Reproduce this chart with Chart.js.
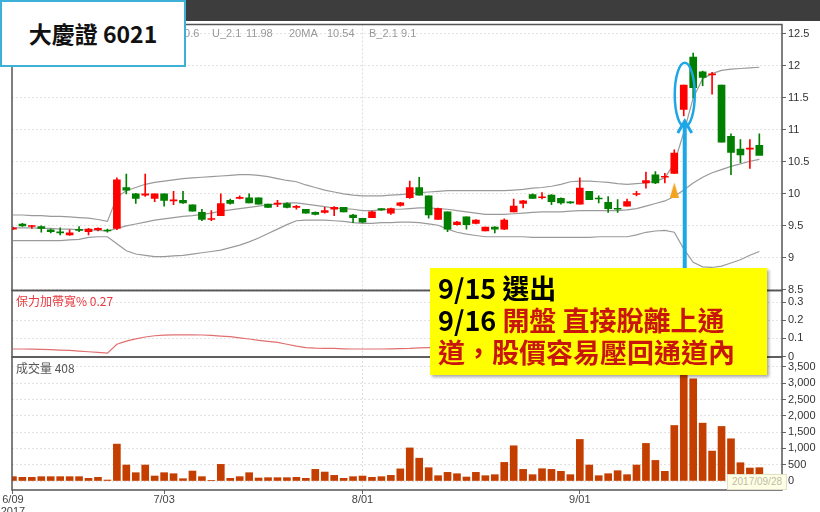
<!DOCTYPE html>
<html>
<head>
<meta charset="utf-8">
<script src="https://cdn.jsdelivr.net/npm/chart.js@4.4.1/dist/chart.umd.min.js"></script>
<style>
  html, body { margin: 0; padding: 0; background: #fff; }
  #wrap { position: relative; width: 820px; height: 512px; overflow: hidden; font-family: "Liberation Sans", Arial, sans-serif; }
  #wrap canvas { position: absolute; left: 0; top: 0; }
  .topbar { position: absolute; left: 0; top: 0; width: 820px; height: 21px; background: #3d3d3d; }
  .leg { position: absolute; top: 26px; font-size: 11px; line-height: 14px; color: #999; white-space: nowrap; }
  .panel-label { position: absolute; left: 16px; font-size: 12px; line-height: 14px; white-space: nowrap; font-family: "Noto Sans CJK TC", "Liberation Sans", sans-serif; }
  .title { position: absolute; left: 0; top: 0; width: 182px; height: 63px; background: #fff; border: 2px solid #3cb0d6;
           font: bold 23px/63px "Noto Sans CJK TC", sans-serif; text-align: center; color: #111; }
  .note { position: absolute; left: 430px; top: 268px; width: 337px; height: 107px; box-sizing: border-box; padding: 4px 0 0 8px;
          background: #ffff00; box-shadow: 2px 2px 3px rgba(0,0,0,0.35);
          font: bold 27px/32px "Noto Sans CJK TC", sans-serif; color: #000; white-space: nowrap; }
  .note .r { color: #c8160c; }
  .tip { position: absolute; left: 727px; top: 474px; width: 58px; height: 14px; background: #ffffe6; border: 1px solid #e2e0c8;
         font-size: 10px; line-height: 14px; color: #bdbba4; text-align: center; }
</style>
</head>
<body>
<div id="wrap">
  <div class="topbar"></div>
  <canvas id="price" width="820" height="512"></canvas>
  <canvas id="bw" width="820" height="512"></canvas>
  <canvas id="vol" width="820" height="512"></canvas>

  <span class="leg" style="left:178px">10.6</span>
  <span class="leg" style="left:212px">U_2.1</span>
  <span class="leg" style="left:246px">11.98</span>
  <span class="leg" style="left:289px">20MA</span>
  <span class="leg" style="left:327px">10.54</span>
  <span class="leg" style="left:369px">B_2.1</span>
  <span class="leg" style="left:401px">9.1</span>

  <span class="panel-label" style="top:294px;color:#e8383d">保力加帶寬% 0.27</span>
  <span class="panel-label" style="top:361px;color:#555">成交量 408</span>

  <div class="title">大慶證 6021</div>
  <div class="note">
    <div>9/15 選出</div>
    <div>9/16 <span class="r">開盤 直接脫離上通</span></div>
    <div class="r">道，股價容易壓回通道內</div>
  </div>
  <div class="tip">2017/09/28</div>
</div>

<script>
// daily candles 2017/06/09 .. 2017/09/28, index 0..79
const opens = [9.45, 9.53, 9.49, 9.49, 9.44, 9.40, 9.36, 9.44, 9.41, 9.44,
  9.43, 9.46, 10.10, 10.00, 9.98, 9.93, 10.00, 9.89, 9.90, 9.83,
  9.71, 9.60, 9.66, 9.90, 9.93, 9.94, 9.94, 9.84, 9.84, 9.85,
  9.79, 9.76, 9.71, 9.71, 9.76, 9.79, 9.67, 9.62, 9.63, 9.77,
  9.70, 9.82, 9.94, 10.10, 9.97, 9.60, 9.72, 9.52, 9.64, 9.54,
  9.42, 9.48, 9.45, 9.72, 9.85, 9.99, 9.94, 9.98, 9.93, 9.87,
  9.84, 10.04, 9.93, 9.87, 9.77, 9.81, 9.99, 10.17, 10.30, 10.26,
  10.32, 11.32, 12.14, 11.91, 11.86, 11.70, 10.90, 10.70, 10.70, 10.76];
const highs = [9.48, 9.54, 9.51, 9.50, 9.45, 9.47, 9.44, 9.49, 9.46, 9.47,
  9.45, 10.25, 10.31, 10.01, 10.31, 10.00, 10.00, 10.04, 10.04, 9.83,
  9.76, 9.74, 10.00, 9.92, 9.97, 10.00, 9.94, 9.84, 9.90, 9.86,
  9.82, 9.76, 9.72, 9.79, 9.80, 9.79, 9.68, 9.62, 9.73, 9.77,
  9.78, 9.87, 10.20, 10.26, 9.97, 9.78, 9.72, 9.57, 9.64, 9.60,
  9.48, 9.49, 9.61, 9.92, 9.90, 10.00, 10.02, 9.99, 9.94, 9.88,
  10.25, 10.04, 9.97, 9.96, 9.91, 9.92, 10.04, 10.34, 10.35, 10.32,
  10.69, 11.70, 12.20, 11.92, 11.90, 11.70, 10.94, 10.85, 10.85, 10.94];
const lows = [9.44, 9.49, 9.46, 9.40, 9.39, 9.36, 9.35, 9.41, 9.36, 9.42,
  9.40, 9.44, 10.00, 9.85, 9.96, 9.88, 9.81, 9.83, 9.85, 9.73,
  9.58, 9.58, 9.66, 9.84, 9.92, 9.86, 9.84, 9.79, 9.80, 9.78,
  9.76, 9.70, 9.67, 9.70, 9.66, 9.72, 9.55, 9.55, 9.63, 9.74,
  9.68, 9.81, 9.93, 9.98, 9.62, 9.60, 9.41, 9.51, 9.45, 9.53,
  9.42, 9.39, 9.44, 9.72, 9.78, 9.93, 9.92, 9.83, 9.84, 9.85,
  9.84, 9.91, 9.86, 9.71, 9.71, 9.81, 9.97, 10.09, 10.16, 10.17,
  10.32, 11.22, 11.50, 11.69, 11.56, 10.81, 10.30, 10.49, 10.40, 10.62];
const closes = [9.47, 9.50, 9.50, 9.46, 9.41, 9.39, 9.39, 9.43, 9.45, 9.46,
  9.42, 10.22, 10.06, 9.93, 10.00, 10.00, 9.90, 9.90, 9.86, 9.73,
  9.60, 9.61, 9.85, 9.85, 9.94, 9.86, 9.84, 9.79, 9.85, 9.79,
  9.80, 9.70, 9.68, 9.74, 9.79, 9.72, 9.63, 9.56, 9.72, 9.75,
  9.77, 9.86, 10.10, 9.98, 9.67, 9.77, 9.45, 9.56, 9.52, 9.59,
  9.48, 9.45, 9.59, 9.81, 9.89, 9.93, 9.95, 9.88, 9.86, 9.86,
  10.09, 9.91, 9.92, 9.77, 9.76, 9.88, 10.00, 10.21, 10.17, 10.27,
  10.64, 11.70, 11.66, 11.82, 11.87, 10.81, 10.65, 10.61, 10.71, 10.60];

// Bollinger bands (20MA, 2.1 sigma)
const upper = [9.67, 9.67, 9.66, 9.66, 9.65, 9.65, 9.64, 9.63, 9.62, 9.60,
  9.57, 9.95, 10.05, 10.10, 10.15, 10.18, 10.20, 10.22, 10.24, 10.25,
  10.26, 10.27, 10.28, 10.29, 10.30, 10.30, 10.29, 10.27, 10.24, 10.21,
  10.19, 10.14, 10.10, 10.06, 10.03, 10.00, 9.98, 9.97, 9.97, 9.97,
  9.98, 9.99, 10.00, 10.02, 10.03, 10.04, 10.05, 10.05, 10.05, 10.05,
  10.05, 10.05, 10.05, 10.06, 10.07, 10.09, 10.10, 10.12, 10.15, 10.19,
  10.20, 10.20, 10.19, 10.18, 10.16, 10.15, 10.16, 10.17, 10.20, 10.25,
  10.48, 10.96, 11.50, 11.80, 11.88, 11.93, 11.95, 11.96, 11.97, 11.98];
const middle = [9.47, 9.47, 9.47, 9.46, 9.46, 9.45, 9.45, 9.44, 9.44, 9.43,
  9.42, 9.46, 9.50, 9.53, 9.56, 9.59, 9.61, 9.63, 9.65, 9.66,
  9.68, 9.70, 9.73, 9.75, 9.77, 9.79, 9.81, 9.83, 9.84, 9.86,
  9.86, 9.84, 9.82, 9.80, 9.78, 9.77, 9.76, 9.74, 9.74, 9.75,
  9.76, 9.76, 9.77, 9.78, 9.78, 9.77, 9.76, 9.74, 9.72, 9.70,
  9.68, 9.68, 9.68, 9.69, 9.70, 9.71, 9.72, 9.72, 9.72, 9.73,
  9.74, 9.74, 9.74, 9.74, 9.74, 9.75, 9.77, 9.81, 9.85, 9.89,
  9.96, 10.06, 10.17, 10.26, 10.33, 10.38, 10.43, 10.47, 10.51, 10.54];
const lower = [9.27, 9.27, 9.27, 9.27, 9.27, 9.27, 9.28, 9.29, 9.32, 9.33,
  9.33, 9.22, 9.11, 9.06, 9.04, 9.02, 9.02, 9.03, 9.04, 9.06,
  9.08, 9.10, 9.12, 9.16, 9.20, 9.25, 9.31, 9.38, 9.45, 9.52,
  9.58, 9.59, 9.59, 9.59, 9.58, 9.57, 9.55, 9.54, 9.54, 9.55,
  9.55, 9.56, 9.56, 9.55, 9.53, 9.51, 9.45, 9.40, 9.37, 9.35,
  9.33, 9.33, 9.33, 9.33, 9.33, 9.32, 9.32, 9.32, 9.32, 9.32,
  9.32, 9.32, 9.33, 9.33, 9.33, 9.33, 9.36, 9.40, 9.42, 9.43,
  9.40, 9.14, 8.93, 8.86, 8.85, 8.87, 8.92, 8.97, 9.04, 9.10];

// band width (U-L)/MA
const bandWidth = [0.042, 0.042, 0.041, 0.040, 0.039, 0.036, 0.034, 0.030, 0.027, 0.023,
  0.019, 0.068, 0.085, 0.098, 0.108, 0.115, 0.118, 0.120, 0.120, 0.120,
  0.119, 0.117, 0.113, 0.110, 0.103, 0.097, 0.090, 0.084, 0.078, 0.068,
  0.058, 0.050, 0.047, 0.046, 0.045, 0.043, 0.042, 0.042, 0.042, 0.042,
  0.043, 0.044, 0.045, 0.048, 0.050, 0.052, 0.062, 0.068, 0.071, 0.073,
  0.075, 0.075, 0.075, 0.075, 0.076, 0.078, 0.080, 0.082, 0.085, 0.088,
  0.090, 0.090, 0.088, 0.087, 0.085, 0.084, 0.082, 0.080, 0.079, 0.083,
  0.110, 0.180, 0.250, 0.290, 0.290, 0.290, 0.285, 0.280, 0.275, 0.273];

const volume = [133, 112, 112, 133, 133, 133, 133, 133, 82, 112,
  30, 1132, 490, 255, 490, 153, 255, 224, 71, 306,
  133, 20, 510, 82, 133, 255, 92, 102, 102, 102,
  112, 82, 357, 275, 173, 82, 133, 153, 112, 133,
  173, 372, 1015, 700, 408, 163, 265, 224, 122, 265,
  163, 194, 571, 1081, 357, 194, 377, 357, 296, 194,
  1275, 490, 163, 224, 316, 194, 490, 1153, 632, 296,
  1703, 4100, 3131, 1775, 918, 1673, 1295, 561, 398, 408];

const xTickIdx = [0, 16, 37, 60];
const xTickText = ['6/09', '7/03', '8/01', '9/01'];
const priceTicks = [8.5, 9, 9.5, 10, 10.5, 11, 11.5, 12, 12.5];
const bwTicks = [0, 0.1, 0.2, 0.3];
const volTicks = [0, 500, 1000, 1500, 2000, 2500, 3000, 3500];

const signalIdx = 70, signalPrice = 10.06;   // orange marker
const pickIdx = 71;                          // circled candle (9/16)

const UP = '#ff0000', DOWN = '#007f00';
const candleColors = closes.map((c, i) => c >= opens[i] ? UP : DOWN);
const xy = (arr) => arr.map((v, i) => ({ x: i, y: v }));

const framePlugin = {
  id: 'frame',
  afterDraw(chart) {
    const { ctx, chartArea: a } = chart;
    ctx.save();
    ctx.strokeStyle = '#555';
    ctx.lineWidth = 1.5;
    ctx.strokeRect(a.left, a.top, a.right - a.left, a.bottom - a.top);
    ctx.restore();
  }
};

const callout = {
  id: 'callout',
  afterDatasetsDraw(chart) {
    const { ctx, scales: { x, y } } = chart;
    const cx = x.getPixelForValue(pickIdx) + 1;
    const top = y.getPixelForValue(12.05), bot = y.getPixelForValue(11.05);
    ctx.save();
    ctx.strokeStyle = '#1ea7e6';
    ctx.lineWidth = 2.5;
    ctx.beginPath();
    ctx.ellipse(cx, (top + bot) / 2, 10, (bot - top) / 2, 0, 0, Math.PI * 2);
    ctx.stroke();
    const tip = y.getPixelForValue(11.14);
    ctx.lineWidth = 4;
    ctx.beginPath();
    ctx.moveTo(cx, chart.chartArea.bottom);
    ctx.lineTo(cx, tip + 3);
    ctx.stroke();
    ctx.lineWidth = 3;
    ctx.beginPath();
    ctx.moveTo(cx - 7, tip + 12);
    ctx.lineTo(cx, tip);
    ctx.lineTo(cx + 7, tip + 12);
    ctx.stroke();
    ctx.restore();
  }
};

// narrow orange triangle used as point style
const tri = document.createElement('canvas');
tri.width = 9; tri.height = 15;
const tc = tri.getContext('2d');
tc.fillStyle = '#f5a21f';
tc.beginPath(); tc.moveTo(4.5, 0); tc.lineTo(9, 15); tc.lineTo(0, 15); tc.closePath(); tc.fill();

const X_MIN = -0.1, X_MAX = 81.4;
const gridColor = '#e2e2e2';

function xAxis(showLabels) {
  return {
    type: 'linear', min: X_MIN, max: X_MAX, offset: false,
    afterBuildTicks: (s) => { s.ticks = (showLabels ? xTickIdx : [37]).map(v => ({ value: v })); },
    afterFit: showLabels ? (s) => { s.height = 22; } : (s) => { s.height = 0; },
    grid: {
      offset: false,
      color: (c) => (c.tick && c.tick.value === 37) ? '#dcdcdc' : 'rgba(0,0,0,0)',
      drawTicks: showLabels, tickLength: 4, tickColor: '#666'
    },
    border: { display: false, dash: [2, 2] },
    ticks: {
      display: showLabels, autoSkip: false, maxRotation: 0, padding: 0,
      color: '#444', font: { family: 'Liberation Sans', size: 11, lineHeight: 1.1 },
      callback: (v) => {
        const k = xTickIdx.indexOf(v);
        if (k < 0) return '';
        return k === 0 ? [xTickText[0], '2017'] : xTickText[k];
      }
    }
  };
}

function yAxis(min, max, ticks, fmt) {
  return {
    position: 'right', min, max,
    afterBuildTicks: (s) => { s.ticks = ticks.map(v => ({ value: v })); },
    afterFit: (s) => { s.width = 38; },
    grid: { color: gridColor, drawTicks: true, tickLength: 4, tickColor: '#666' },
    border: { display: false, dash: [2, 2] },
    ticks: { padding: 2, color: '#333', font: { family: 'Liberation Sans', size: 11 }, callback: fmt }
  };
}

function baseOptions(padTop, padBottom, x, y) {
  return {
    responsive: false, animation: false,
    layout: { padding: { left: 12, right: 0, top: padTop, bottom: padBottom } },
    plugins: { legend: { display: false }, tooltip: { enabled: false } },
    scales: { x, y }
  };
}

new Chart(document.getElementById('price'), {
  type: 'bar',
  data: {
    datasets: [
      { type: 'line', data: xy(upper), borderColor: '#9a9a9a', borderWidth: 1.2, pointRadius: 0, order: 4 },
      { type: 'line', data: xy(middle), borderColor: '#9a9a9a', borderWidth: 1.2, pointRadius: 0, order: 4 },
      { type: 'line', data: xy(lower), borderColor: '#9a9a9a', borderWidth: 1.2, pointRadius: 0, order: 4 },
      { data: highs.map((h, i) => ({ x: i, y: [lows[i], h] })), backgroundColor: candleColors,
        barThickness: 1, grouped: false, order: 3 },
      { data: opens.map((o, i) => ({ x: i, y: [o, closes[i]] })), backgroundColor: candleColors,
        barThickness: 7, minBarLength: 1, grouped: false, order: 2 },
      { type: 'line', showLine: false, data: [{ x: signalIdx, y: signalPrice }], pointStyle: tri, order: 1 }
    ]
  },
  options: baseOptions(24.5, 512 - 290.5, xAxis(false),
    yAxis(8.49, 12.648, priceTicks, (v) => String(v))),
  plugins: [framePlugin, callout]
});

new Chart(document.getElementById('bw'), {
  type: 'line',
  data: {
    datasets: [{ data: xy(bandWidth), borderColor: '#e07070', borderWidth: 1.2, pointRadius: 0 }]
  },
  options: baseOptions(290.5, 512 - 357, xAxis(false),
    yAxis(-0.002, 0.364, bwTicks, (v) => String(v))),
  plugins: [framePlugin]
});

new Chart(document.getElementById('vol'), {
  type: 'bar',
  data: {
    datasets: [{ data: xy(volume), backgroundColor: '#c43e00', barThickness: 7, grouped: false }]
  },
  options: baseOptions(357, 0, xAxis(true),
    yAxis(-276, 3804, volTicks, (v) => v.toLocaleString('en-US'))),
  plugins: [framePlugin]
});
</script>
</body>
</html>
